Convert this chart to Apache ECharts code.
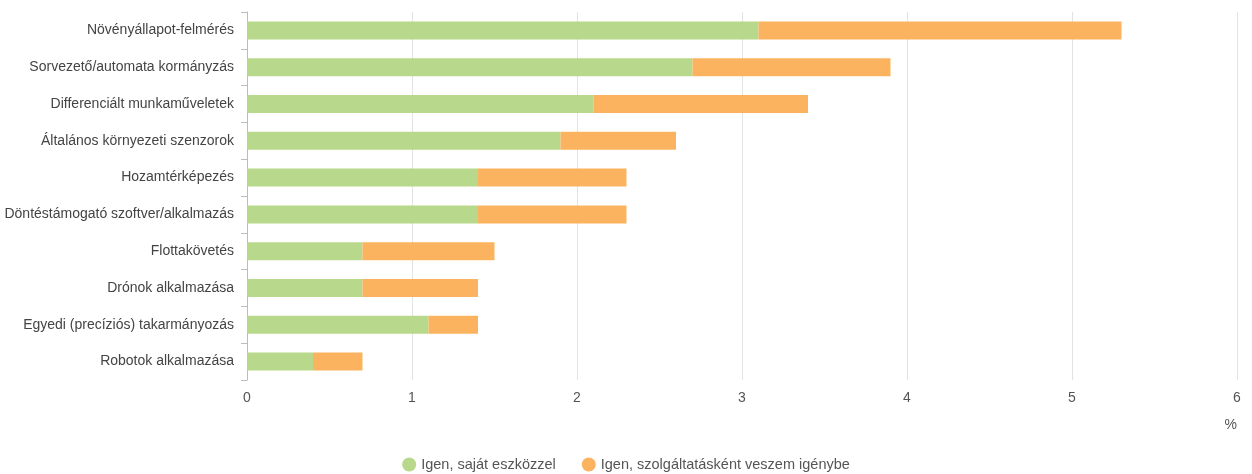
<!DOCTYPE html>
<html>
<head>
<meta charset="utf-8">
<script src="https://cdn.jsdelivr.net/npm/echarts@6/dist/echarts.min.js"></script>
<style>html,body{margin:0;padding:0;background:#fff}#c{width:1252px;height:474px}</style>
</head>
<body>
<div id="c"></div>
<script>
const categories = ["Növényállapot-felmérés","Sorvezető/automata kormányzás","Differenciált munkaműveletek","Általános környezeti szenzorok","Hozamtérképezés","Döntéstámogató szoftver/alkalmazás","Flottakövetés","Drónok alkalmazása","Egyedi (precíziós) takarmányozás","Robotok alkalmazása"];
const ownTools = [3.1, 2.7, 2.1, 1.9, 1.4, 1.4, 0.7, 0.7, 1.1, 0.4];
const asService = [2.2, 1.2, 1.3, 0.7, 0.9, 0.9, 0.8, 0.7, 0.3, 0.3];
const seriesNames = ["Igen, saját eszközzel", "Igen, szolgáltatásként veszem igénybe"];
const xTicks = [0, 1, 2, 3, 4, 5, 6];

const chart = echarts.init(document.getElementById('c'));
const font = 'Liberation Sans, Arial, sans-serif';
chart.setOption({
  animation: false,
  textStyle: {fontFamily: font},
  grid: {left: 247, right: 15, top: 12, bottom: 94, containLabel: false},
  legend: {
    bottom: 2, left: 'center', padding: 0, icon: 'circle', itemWidth: 14, itemHeight: 14, itemGap: 26,
    textStyle: {fontSize: 14.5, color: '#555', fontFamily: font},
    data: seriesNames
  },
  xAxis: {
    type: 'value', min: xTicks[0], max: xTicks[xTicks.length - 1], interval: 1,
    name: '%', nameLocation: 'end', nameGap: 0,
    nameTextStyle: {fontSize: 14, color: '#555', align: 'right', verticalAlign: 'top', padding: [38, 0, 0, 0]},
    axisLine: {show: false}, axisTick: {show: false},
    axisLabel: {fontSize: 14, color: '#555', margin: 11},
    splitLine: {lineStyle: {color: '#e3e3e3'}}
  },
  yAxis: {
    type: 'category', inverse: true, data: categories,
    axisLine: {lineStyle: {color: '#bbb'}},
    axisTick: {show: true, length: 6, lineStyle: {color: '#bbb'}},
    axisLabel: {fontSize: 14, color: '#444', margin: 13}
  },
  series: [
    {name: seriesNames[0], type: 'bar', stack: 's', data: ownTools, barWidth: 18, itemStyle: {color: '#b8d98c'}},
    {name: seriesNames[1], type: 'bar', stack: 's', data: asService, barWidth: 18, itemStyle: {color: '#fbb35f'}}
  ]
});
</script>
</body>
</html>
